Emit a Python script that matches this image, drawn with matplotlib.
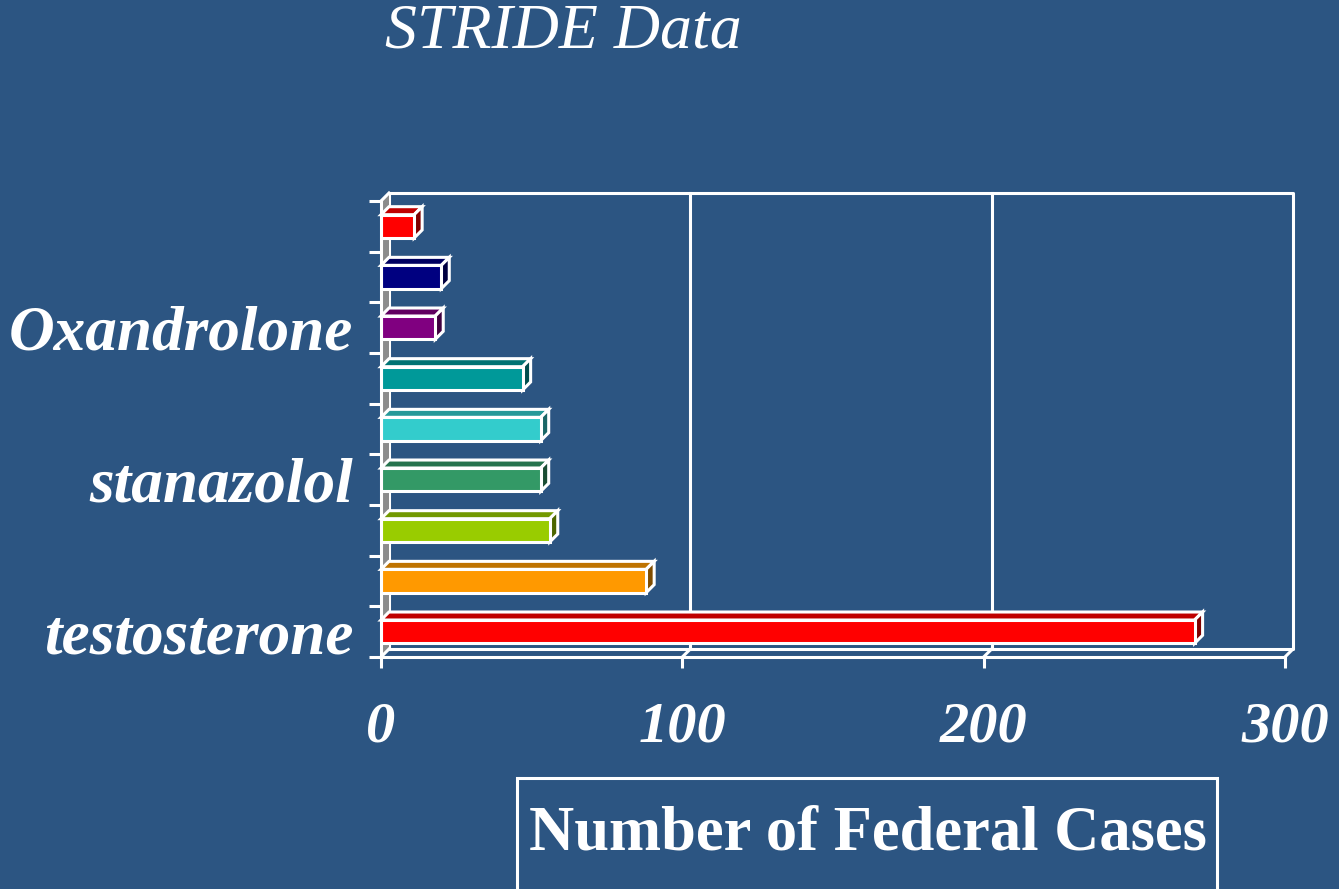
import numpy as np
import matplotlib
matplotlib.use("Agg")
import matplotlib.pyplot as plt
from matplotlib.patches import Polygon, Rectangle

# cases per steroid, listed bottom to top
labels = ["testosterone", "", "", "stanazolol", "", "", "Oxandrolone", "", ""]
cases = [270, 88, 56, 53, 53, 47, 18, 20, 11]
colors = ["#FF0000", "#FF9900", "#99CC00", "#339966", "#33CCCC",
          "#009999", "#800080", "#000080", "#FF0000"]
xticks = [0, 100, 200, 300]

bg = "#2C5582"
serif = ["Liberation Serif", "DejaVu Serif"]

fig = plt.figure(figsize=(13.39, 8.89), dpi=100, facecolor=bg)
ax = fig.add_axes([381 / 1339, 1 - 657 / 889, 904 / 1339, 456 / 889])
ax.set_facecolor("none")
ax.set_xlim(0, 300)
ax.set_ylim(-0.5, 8.5)

# depth of the pseudo-3d look, 8 px right and 8 px up
dx = 8 * 300 / 904
dy = 8 * 9 / 456
lw = 2.2
y0, y1 = -0.5, 8.5

def shade(c, f):
    r, g, b = matplotlib.colors.to_rgb(c)
    return (r * f, g * f, b * f)

# back wall with gridlines
ax.plot([dx, dx, 300 + dx, 300 + dx, dx], [y0 + dy, y1 + dy, y1 + dy, y0 + dy, y0 + dy],
        color="white", lw=lw, clip_on=False, zorder=1)
for xv in xticks[1:-1]:
    ax.plot([xv + dx, xv + dx], [y0 + dy, y1 + dy], color="white", lw=lw, clip_on=False, zorder=1)
# left wall
ax.add_patch(Polygon([(0, y0), (0, y1), (dx, y1 + dy), (dx, y0 + dy)], closed=True,
                     facecolor="#8C8C8C", edgecolor="none", clip_on=False, zorder=1))
# floor diagonals
for xv in xticks:
    ax.plot([xv, xv + dx], [y0, y0 + dy], color="white", lw=lw, clip_on=False, zorder=1)
ax.plot([0, dx], [y1, y1 + dy], color="white", lw=lw, clip_on=False, zorder=1)

# bars: front face, top face and side face
h = 0.46
ypos = np.arange(len(cases))
ax.barh(ypos, cases, height=h, color=colors, edgecolor="white", linewidth=lw, zorder=3)
for y, v, c in zip(ypos, cases, colors):
    top = [(0, y + h / 2), (v, y + h / 2), (v + dx, y + h / 2 + dy), (dx, y + h / 2 + dy)]
    side = [(v, y - h / 2), (v, y + h / 2), (v + dx, y + h / 2 + dy), (v + dx, y - h / 2 + dy)]
    ax.add_patch(Polygon(top, closed=True, facecolor=shade(c, 0.75), edgecolor="white",
                         lw=lw, clip_on=False, zorder=2, joinstyle="miter"))
    ax.add_patch(Polygon(side, closed=True, facecolor=shade(c, 0.5), edgecolor="white",
                         lw=lw, clip_on=False, zorder=2, joinstyle="miter"))

for s in ["top", "right"]:
    ax.spines[s].set_visible(False)
for s in ["left", "bottom"]:
    ax.spines[s].set_color("white")
    ax.spines[s].set_linewidth(lw)
    ax.spines[s].set_zorder(4)

ax.set_yticks(ypos)
ax.set_yticklabels(labels)
ax.set_yticks(np.arange(-0.5, 9, 1), minor=True)
ax.set_xticks(xticks)
ax.set_xticklabels([str(t) for t in xticks])
ax.tick_params(axis="y", which="major", length=0, pad=20)
ax.tick_params(axis="y", which="minor", length=9, width=lw, color="white")
ax.tick_params(axis="x", length=8, width=lw, color="white", pad=24)
for t in ax.get_yticklabels() + ax.get_xticklabels():
    t.set_family(serif)
    t.set_style("italic")
    t.set_weight("bold")
    t.set_color("white")
    t.set_fontsize(45.5)
for t in ax.get_xticklabels():
    t.set_fontsize(42)

fig.text(385 / 1339, 1 - 33 / 889, "STRIDE Data", family=serif, style="italic",
         fontsize=46, color="white", ha="left", va="center")

fig.patches.append(Rectangle((517 / 1339, -0.05), 700 / 1339, (889 - 778) / 889 + 0.05,
                             transform=fig.transFigure, fill=False, edgecolor="white", lw=lw))
fig.text(868 / 1339, 1 - 835 / 889, "Number of Federal Cases", family=serif,
         weight="bold", fontsize=45, color="white", ha="center", va="center")

fig.savefig("out.png", dpi=100, facecolor=bg)
